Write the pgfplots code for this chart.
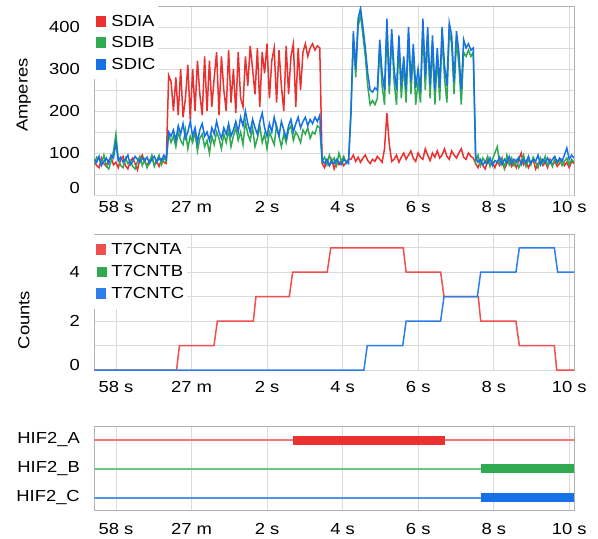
\documentclass[border=0pt]{standalone}
\usepackage{fontspec}
\setmainfont{Liberation Sans}[FakeStretch=1.15]
\usepackage{pgfplots}
\usepackage{pgfplotstable}
\pgfplotsset{compat=1.18}
\definecolor{cA}{RGB}{235,48,48}
\definecolor{cB}{RGB}{48,170,80}
\definecolor{cC}{RGB}{22,112,230}
\newcommand{\fs}{\fontsize{16bp}{19bp}\selectfont}

% sample-indexed current readings (row = sample index)
\pgfplotstableread{
a b c
80 72 85
70 90 78
65 85 92
88 75 70
75 95 80
68 70 88
82 62 75
90 80 95
72 105 88
78 145 125
65 85 82
85 70 90
92 65 78
70 88 85
62 75 95
80 82 72
88 68 80
75 62 92
60 80 85
85 92 78
95 70 88
78 85 82
70 65 90
82 78 75
90 95 85
72 68 92
80 82 78
68 95 88
85 72 82
78 88 95
75 80 85
285 145 150
270 125 140
200 140 155
280 115 130
190 150 165
300 130 145
185 120 170
230 155 135
310 110 150
180 140 175
300 125 140
200 150 160
320 105 125
240 135 155
190 145 170
330 115 140
200 130 150
320 100 130
210 140 160
280 120 145
340 150 175
190 135 150
330 110 135
250 145 160
200 125 145
345 155 170
220 115 140
300 140 155
195 160 175
340 130 150
230 150 185
210 120 165
330 175 200
260 145 170
355 130 150
300 160 180
240 115 160
350 135 145
210 165 175
340 125 195
290 145 160
360 110 140
230 150 170
320 135 150
350 120 185
220 165 160
345 140 140
260 115 175
200 145 155
355 125 135
240 155 165
330 165 180
360 130 150
210 150 170
350 140 185
250 125 160
340 155 175
360 145 185
330 160 165
350 135 180
360 150 170
345 145 185
355 165 175
350 160 190
75 80 82
65 90 75
80 72 85
70 95 70
85 78 80
62 88 75
78 70 85
72 100 78
82 80 72
70 92 85
78 75 80
85 85 75
85 190 200
95 370 390
80 280 300
90 400 420
78 430 445
88 380 400
95 330 350
82 260 290
75 215 250
85 225 245
80 215 255
92 230 250
85 350 370
78 260 290
110 215 250
195 400 420
120 240 260
80 380 395
85 270 300
95 215 250
78 360 380
90 230 260
100 310 330
85 220 250
95 385 400
105 240 270
88 340 360
80 215 255
100 270 300
90 220 245
85 400 420
110 250 280
95 380 400
82 230 260
100 360 380
90 215 250
105 330 350
88 225 255
95 380 400
110 280 310
92 220 260
85 390 410
105 360 380
95 240 270
88 370 390
100 310 340
110 215 250
90 340 370
85 330 350
100 345 360
92 330 345
88 340 350
75 80 90
65 95 78
80 70 85
70 88 72
62 78 80
85 92 75
72 68 88
78 85 70
65 100 82
80 115 78
70 75 90
88 85 72
62 65 85
75 95 78
82 72 92
68 88 75
78 70 85
65 82 80
85 65 90
100 80 72
72 95 85
80 68 78
65 85 92
78 72 75
85 90 85
62 78 80
75 65 95
82 88 72
70 75 85
78 92 78
65 70 88
85 82 75
72 68 85
80 88 92
68 75 78
75 85 88
85 70 80
70 80 95
78 88 112
65 72 85
80 85 95
75 78 88
}\amps

\pgfplotsset{
  base/.style={
    scale only axis, width=479.7bp,
    xmin=0, xmax=200,
    xtick={9.05,40.55,72.05,103.55,135.05,166.55,198.05},
    xticklabels={58 s,27 m,2 s,4 s,6 s,8 s,10 s},
    xmajorgrids,
    major tick length=0pt, minor tick length=0pt,
    grid style={draw=black!14, line width=0.9bp},
    minor grid style={draw=black!14, line width=0.9bp},
    axis line style={draw=black!30, line width=0.9bp},
    tick label style={font=\fs},
    label style={font=\fs},
    /pgf/number format/assume math mode=true,
    yticklabel style={xshift=-11bp},
    legend style={at={(0,1)}, anchor=north west, fill=white, draw=none,
      font=\fs, inner xsep=1.5bp, inner ysep=7bp, row sep=6bp, column sep=4bp,
      nodes={inner sep=1bp, text height=12bp, text depth=2bp},
      cells={anchor=west}},
    legend image code/.code={\fill[##1] (0bp,-4.75bp) rectangle (9bp,4.75bp);},
  }
}

\begin{document}
\begin{tikzpicture}
\path[use as bounding box] (0bp,0bp) rectangle (598bp,-539bp);

% ---------- Amperes ----------
\begin{axis}[base, at={(94.3bp,-6bp)}, anchor=north west, height=189bp,
  ymin=0, ymax=450,
  ytick={100,200,300,400}, minor ytick={50,150,250,350},
  extra y ticks={0}, extra y tick style={yticklabel style={yshift=7bp}},
  ymajorgrids, yminorgrids,
  xticklabel shift=3bp,
  ylabel={Amperes},
  ylabel style={at={(axis description cs:-0.147,0.529)}, anchor=center},
  legend style={row sep=5.5bp},
]
\addplot[cA, line width=1.5bp] table[x expr=\coordindex, y=a] {\amps};
\addlegendentry{SDIA}
\addplot[cB, line width=1.5bp] table[x expr=\coordindex, y=b] {\amps};
\addlegendentry{SDIB}
\addplot[cC, line width=1.5bp] table[x expr=\coordindex, y=c] {\amps};
\addlegendentry{SDIC}
\end{axis}

% ---------- Counts ----------
\begin{axis}[base, at={(94.3bp,-234.3bp)}, anchor=north west, height=135.7bp,
  ymin=0, ymax=5.55, clip=false,
  ytick={2,4}, minor ytick={1,3,5},
  extra y ticks={0}, extra y tick style={yticklabel style={yshift=5bp}},
  ymajorgrids, yminorgrids,
  xticklabel shift=8bp,
  ylabel={Counts},
  ylabel style={at={(axis description cs:-0.147,0.368)}, anchor=center},
]
\addplot[cA!85, line width=1.5bp] coordinates {
 (0,0) (34.3,0) (35.5,1) (49.9,1) (51.3,2) (66.3,2) (67.4,3) (81.3,3) (82.7,4)
 (97.1,4) (98.6,5) (128.8,5) (130,4) (144.4,4) (145.8,3) (160.1,3) (161.1,2)
 (175.8,2) (177.2,1) (191.8,1) (192.8,0) (200,0)};
\addlegendentry{T7CNTA}
\addlegendimage{cB}
\addlegendentry{T7CNTB}
\addplot[cC!90, line width=1.5bp] coordinates {
 (0,0) (112.4,0) (113.8,1) (128.6,1) (130,2) (144.4,2) (145.8,3) (159.7,3)
 (161.1,4) (175.8,4) (177.2,5) (191.8,5) (193.2,4) (200,4)};
\addlegendentry{T7CNTC}
\end{axis}

% ---------- HIF2 ----------
\begin{axis}[base, at={(94.3bp,-426bp)}, anchor=north west, height=84.7bp,
  ymin=0.55, ymax=3.485,
  ytick={1,2,3}, yticklabels={HIF2\_C,HIF2\_B,HIF2\_A},
  xticklabel shift=9.5bp,
]
\addplot[cA!65, line width=2bp] coordinates {(0,3) (200,3)};
\addplot[cB!70, line width=2bp] coordinates {(0,2) (200,2)};
\addplot[cC!75, line width=2bp] coordinates {(0,1) (200,1)};
\addplot[cA, line width=9bp] coordinates {(83,3) (146.2,3)};
\addplot[cB, line width=9bp] coordinates {(161.2,2) (200,2)};
\addplot[cC, line width=9bp] coordinates {(161.2,1) (200,1)};
\end{axis}
\end{tikzpicture}
\end{document}
